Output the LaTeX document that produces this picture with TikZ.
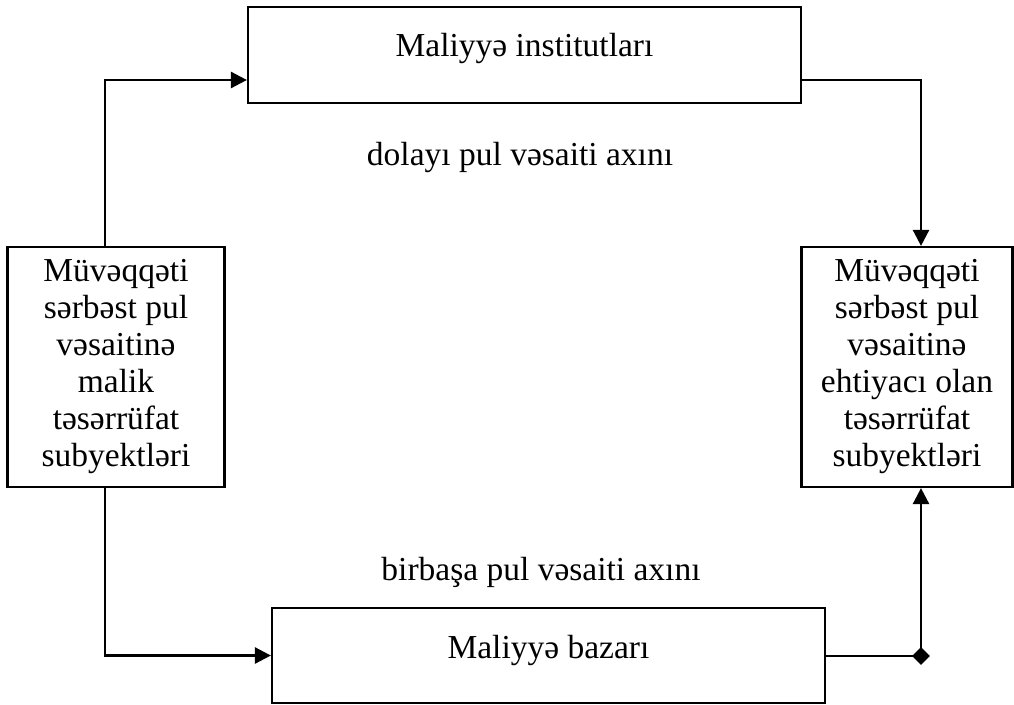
\documentclass[tikz,border=0pt]{standalone}
\usepackage{fontspec}
\setmainfont{Liberation Serif}
\usetikzlibrary{arrows.meta,shapes.geometric}
\begin{document}
\begin{tikzpicture}[x=1pt,y=-1pt,
  font=\fontsize{33.5}{37}\selectfont,
  box/.style={draw,line width=2.2pt,inner sep=0pt,align=center},
  conn/.style={line width=2.6pt},
  arr/.style={conn,-{Triangle[length=16pt,width=16pt]}},
  joint/.style={diamond,fill,inner sep=0pt,minimum size=18pt}]
\useasboundingbox (0,0) rectangle (1014,704);
% boxes
\node[box,minimum width=553,minimum height=96] (tb) at (524.5,55)
  {\raisebox{20pt}{Maliyyə institutları}};
\node[box,minimum width=217,minimum height=240] (lb) at (116,367)
  {Müvəqqəti\\sərbəst pul\\vəsaitinə\\malik\\təsərrüfat\\subyektləri};
\node[box,minimum width=211,minimum height=240] (rb) at (907,367)
  {Müvəqqəti\\sərbəst pul\\vəsaitinə\\ehtiyacı olan\\təsərrüfat\\subyektləri};
\node[box,minimum width=553,minimum height=95] (bb) at (548.5,655.5)
  {\raisebox{18pt}{Maliyyə bazarı}};
% flow labels
\node (ind) at (520,157) {dolayı pul vəsaiti axını};
\node (dir) at (541,572) {birbaşa pul vəsaiti axını};
% routing points
\coordinate (lx) at (105,80);
\coordinate (rx) at (921,80);
\node[joint] (j) at (921,656) {};
% connectors
\draw[arr] (lb.north -| lx) |- (tb.west |- lx);
\draw[arr] (tb.east |- rx) -| (rb.north -| rx);
\draw[arr] (lb.south -| lx) |- (bb.west);
\draw[conn] (bb.east |- j) -- (j.center);
\draw[arr] (j.center) -- (rb.south -| j);
\end{tikzpicture}
\end{document}
